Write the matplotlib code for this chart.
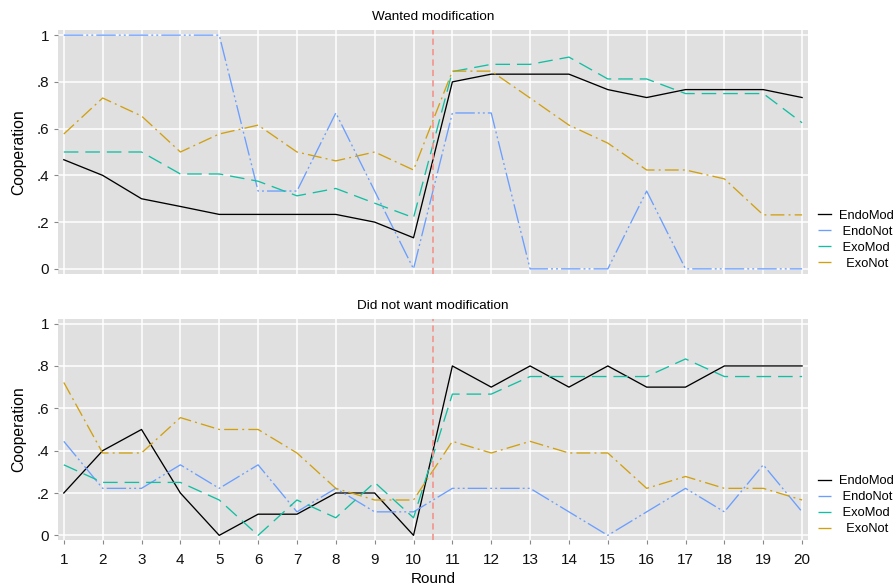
import numpy as np
import matplotlib
matplotlib.use('Agg')
import matplotlib.pyplot as plt

plt.rcParams['font.family'] = ['Liberation Sans', 'DejaVu Sans']
plt.rcParams['lines.scale_dashes'] = False

rounds = np.arange(1, 21)
series = ['EndoMod', 'EndoNot', 'ExoMod', 'ExoNot']
labels = ['EndoMod', ' EndoNot', ' ExoMod', '  ExoNot']

# Wanted modification
w_endomod = [.467, .4, .3, .267, .233, .233, .233, .233, .2, .133,
             .8, .833, .833, .833, .767, .733, .767, .767, .767, .733]
w_endonot = [1, 1, 1, 1, 1, .333, .333, .667, .333, 0,
             .667, .667, 0, 0, 0, .333, 0, 0, 0, 0]
w_exomod = [.5, .5, .5, .406, .406, .375, .3125, .344, .281, .219,
            .844, .875, .875, .906, .8125, .8125, .75, .75, .75, .625]
w_exonot = [.577, .731, .654, .5, .577, .615, .5, .462, .5, .423,
            .846, .846, .731, .615, .538, .423, .423, .385, .231, .231]

# Did not want modification
n_endomod = [.2, .4, .5, .2, 0, .1, .1, .2, .2, 0,
             .8, .7, .8, .7, .8, .7, .7, .8, .8, .8]
n_endonot = [.444, .222, .222, .333, .222, .333, .111, .222, .111, .111,
             .222, .222, .222, .111, 0, .111, .222, .111, .333, .111]
n_exomod = [.333, .25, .25, .25, .167, 0, .167, .083, .25, .083,
            .667, .667, .75, .75, .75, .75, .833, .75, .75, .75]
n_exonot = [.722, .389, .389, .556, .5, .5, .389, .222, .167, .167,
            .444, .389, .444, .389, .389, .222, .278, .222, .222, .167]

yticks = [0, .2, .4, .6, .8, 1]
ytick_labels = ['0', '.2', '.4', '.6', '.8', '1']

colors = ['#000000', '#6A9EFF', '#12BFA2', '#D1A010']
dashes = [None, (14, 2.2, 1.4, 2.2, 1.4, 2.2), (10.5, 5), (10, 3, 1.4, 3)]

panels = [('Wanted modification', [w_endomod, w_endonot, w_exomod, w_exonot]),
          ('Did not want modification', [n_endomod, n_endonot, n_exomod, n_exonot])]

fig = plt.figure(figsize=(8.96, 5.88), dpi=100)
ax_pos = [[0.0647, 0.534, 0.837, 0.415], [0.0647, 0.0816, 0.837, 0.376]]

for i, (title, data) in enumerate(panels):
    ax = fig.add_axes(ax_pos[i])
    ax.set_facecolor('#E0E0E0')
    for s in ax.spines.values():
        s.set_visible(False)
    ax.grid(True, color='white', linewidth=1.1)
    ax.set_axisbelow(True)
    for vals, name, lab, c, d in zip(data, series, labels, colors, dashes):
        ln, = ax.plot(rounds, vals, color=c, linewidth=0.95, label=lab)
        if d is not None:
            ln.set_dashes(d)
    ax.axvline(10.5, color='#F29A92', linewidth=1.3, dashes=(4.5, 3))
    ax.set_xlim(0.85, 20.15)
    ax.set_ylim(-0.022, 1.022)
    ax.set_xticks(rounds)
    ax.set_yticks(yticks)
    ax.set_yticklabels(ytick_labels)
    ax.tick_params(axis='both', length=3, width=0.8, color='#888888',
                   labelsize=11, labelcolor='#111111')
    ax.tick_params(axis='x', pad=6)
    ax.set_ylabel('Cooperation', fontsize=11.3, labelpad=7)
    ax.set_title(title, fontsize=9.7, pad=7)
    if i == 0:
        ax.tick_params(axis='x', labelbottom=False, length=0)
    else:
        ax.set_xlabel('Round', fontsize=11, labelpad=4)
    ax.legend(loc='lower left', bbox_to_anchor=(0.998, -0.03), frameon=False,
              fontsize=9.3, handlelength=1.0, handletextpad=0.6,
              labelspacing=0.3)

fig.savefig('out.png', dpi=100)
